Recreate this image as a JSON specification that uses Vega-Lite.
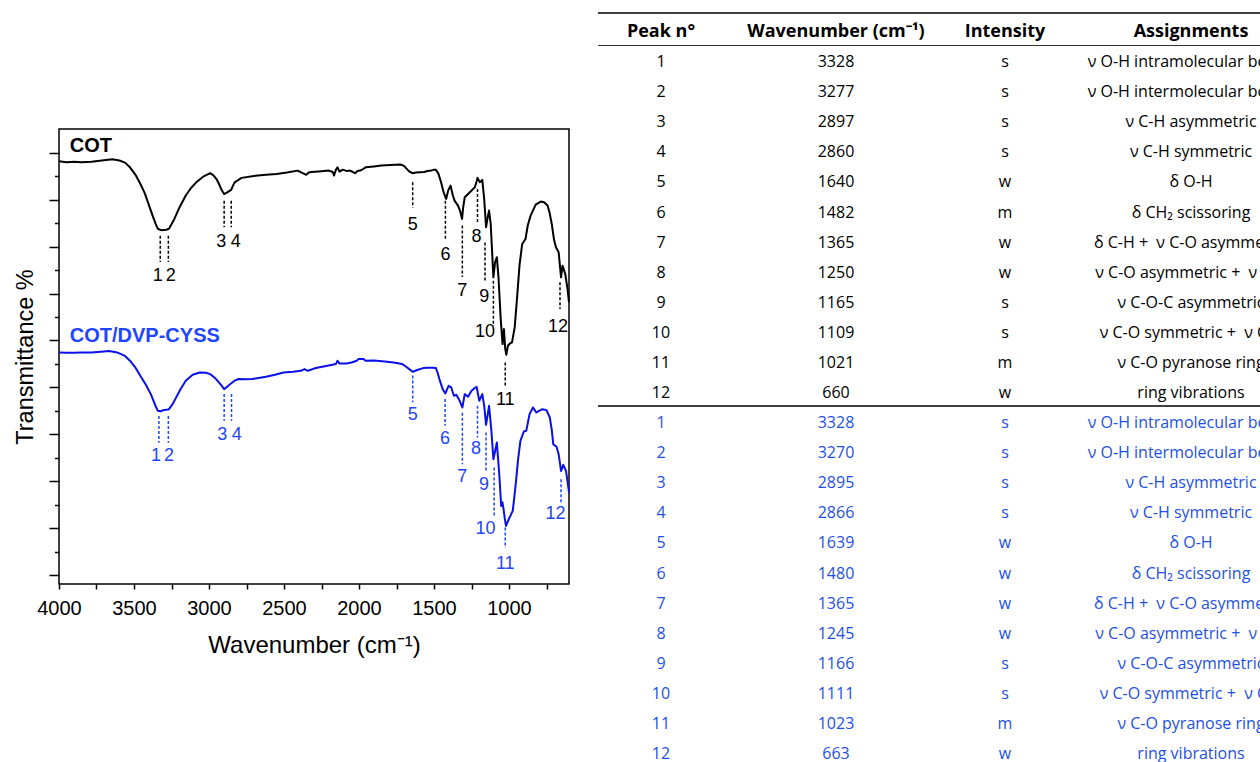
{
  "$schema": "https://vega.github.io/schema/vega-lite/v6.json",
  "usermeta": {"embedOptions": {"actions": false}},
  "background": "#ffffff",
  "padding": {"left": 12, "top": 0, "right": 0, "bottom": 0},
  "config": {
    "view": {"stroke": "#000000", "strokeWidth": 1.5},
    "font": "Liberation Sans"
  },
  "datasets": {
    "cot": [
      {"wn":4000,"t":88.2},{"wn":3950,"t":88.0},{"wn":3900,"t":88.1},{"wn":3850,"t":88.0},{"wn":3784,"t":88.1},{"wn":3714,"t":88.35},{"wn":3644,"t":88.6},{"wn":3597,"t":88.35},{"wn":3560,"t":87.9},{"wn":3527,"t":86.9},{"wn":3490,"t":85.3},{"wn":3458,"t":83.4},{"wn":3430,"t":81.5},{"wn":3411,"t":79.8},{"wn":3376,"t":76.6},{"wn":3355,"t":74.8},{"wn":3341,"t":73.8},{"wn":3320,"t":73.5},{"wn":3306,"t":73.55},{"wn":3285,"t":73.6},{"wn":3267,"t":73.8},{"wn":3237,"t":75.5},{"wn":3202,"t":78.0},{"wn":3155,"t":80.9},{"wn":3120,"t":82.5},{"wn":3085,"t":83.7},{"wn":3039,"t":84.9},{"wn":2992,"t":85.65},{"wn":2969,"t":85.15},{"wn":2950,"t":84.4},{"wn":2934,"t":83.4},{"wn":2915,"t":82.0},{"wn":2899,"t":81.2},{"wn":2876,"t":81.6},{"wn":2852,"t":82.1},{"wn":2840,"t":83.0},{"wn":2829,"t":83.7},{"wn":2783,"t":84.65},{"wn":2690,"t":85.1},{"wn":2620,"t":85.3},{"wn":2550,"t":85.5},{"wn":2480,"t":85.8},{"wn":2410,"t":86.2},{"wn":2390,"t":85.9},{"wn":2375,"t":85.65},{"wn":2352,"t":85.3},{"wn":2335,"t":85.8},{"wn":2317,"t":85.9},{"wn":2271,"t":86.0},{"wn":2235,"t":86.1},{"wn":2201,"t":86.2},{"wn":2175,"t":85.9},{"wn":2166,"t":85.15},{"wn":2155,"t":86.3},{"wn":2143,"t":86.9},{"wn":2130,"t":86.0},{"wn":2108,"t":86.4},{"wn":2080,"t":86.1},{"wn":2061,"t":86.2},{"wn":2040,"t":85.9},{"wn":2026,"t":85.65},{"wn":2010,"t":86.1},{"wn":1991,"t":86.2},{"wn":1970,"t":86.6},{"wn":1956,"t":86.9},{"wn":1900,"t":87.1},{"wn":1852,"t":87.3},{"wn":1790,"t":87.4},{"wn":1724,"t":87.5},{"wn":1700,"t":87.2},{"wn":1677,"t":86.4},{"wn":1660,"t":85.9},{"wn":1642,"t":85.65},{"wn":1620,"t":85.8},{"wn":1596,"t":85.86},{"wn":1565,"t":85.9},{"wn":1549,"t":86.07},{"wn":1520,"t":86.2},{"wn":1503,"t":86.36},{"wn":1487,"t":86.36},{"wn":1470,"t":85.5},{"wn":1453,"t":83.72},{"wn":1435,"t":81.5},{"wn":1419,"t":80.17},{"wn":1405,"t":82.0},{"wn":1390,"t":83.01},{"wn":1375,"t":81.0},{"wn":1363,"t":79.81},{"wn":1340,"t":78.75},{"wn":1325,"t":77.5},{"wn":1313,"t":75.9},{"wn":1305,"t":78.5},{"wn":1295,"t":80.52},{"wn":1261,"t":81.59},{"wn":1228,"t":82.66},{"wn":1215,"t":84.0},{"wn":1210,"t":84.65},{"wn":1194,"t":83.72},{"wn":1178,"t":84.22},{"wn":1165,"t":80.0},{"wn":1153,"t":74.12},{"wn":1142,"t":76.25},{"wn":1133,"t":77.68},{"wn":1122,"t":74.83},{"wn":1104,"t":63.45},{"wn":1093,"t":66.65},{"wn":1081,"t":67.72},{"wn":1070,"t":63.45},{"wn":1056,"t":54.92},{"wn":1043,"t":49.22},{"wn":1034,"t":52.43},{"wn":1025,"t":48.16},{"wn":1018,"t":46.95},{"wn":1007,"t":48.87},{"wn":995,"t":49.3},{"wn":980,"t":49.58},{"wn":962,"t":52.78},{"wn":946,"t":59.18},{"wn":930,"t":66.0},{"wn":912,"t":70.57},{"wn":890,"t":71.63},{"wn":875,"t":74.5},{"wn":856,"t":76.61},{"wn":822,"t":78.96},{"wn":788,"t":79.6},{"wn":766,"t":79.45},{"wn":743,"t":78.75},{"wn":730,"t":77.3},{"wn":715,"t":74.83},{"wn":700,"t":71.5},{"wn":687,"t":69.85},{"wn":669,"t":68.79},{"wn":653,"t":63.45},{"wn":643,"t":65.94},{"wn":625,"t":64.16},{"wn":610,"t":61.0},{"wn":600,"t":58.1}
    ],
    "blend": [
      {"wn":4000,"t":47.45},{"wn":3950,"t":47.4},{"wn":3900,"t":47.38},{"wn":3850,"t":47.45},{"wn":3784,"t":47.45},{"wn":3720,"t":47.6},{"wn":3667,"t":47.73},{"wn":3620,"t":47.5},{"wn":3597,"t":47.23},{"wn":3560,"t":46.7},{"wn":3527,"t":45.67},{"wn":3490,"t":44.2},{"wn":3458,"t":42.47},{"wn":3420,"t":40.5},{"wn":3388,"t":38.56},{"wn":3360,"t":36.3},{"wn":3341,"t":35.0},{"wn":3320,"t":34.9},{"wn":3306,"t":35.14},{"wn":3285,"t":35.2},{"wn":3267,"t":35.35},{"wn":3245,"t":36.3},{"wn":3225,"t":37.49},{"wn":3190,"t":39.6},{"wn":3155,"t":41.4},{"wn":3109,"t":42.68},{"wn":3062,"t":43.18},{"wn":3020,"t":43.1},{"wn":2992,"t":42.82},{"wn":2960,"t":42.0},{"wn":2934,"t":41.04},{"wn":2915,"t":40.3},{"wn":2899,"t":39.62},{"wn":2880,"t":40.1},{"wn":2864,"t":40.55},{"wn":2830,"t":41.4},{"wn":2806,"t":41.76},{"wn":2760,"t":41.7},{"wn":2713,"t":41.76},{"wn":2620,"t":42.25},{"wn":2560,"t":42.7},{"wn":2503,"t":43.18},{"wn":2440,"t":43.3},{"wn":2387,"t":43.53},{"wn":2364,"t":43.89},{"wn":2340,"t":43.53},{"wn":2300,"t":44.0},{"wn":2271,"t":44.24},{"wn":2210,"t":44.6},{"wn":2154,"t":44.96},{"wn":2143,"t":45.67},{"wn":2131,"t":45.1},{"wn":2085,"t":45.1},{"wn":2050,"t":45.3},{"wn":2015,"t":45.67},{"wn":2003,"t":46.02},{"wn":1968,"t":46.02},{"wn":1957,"t":45.67},{"wn":1900,"t":45.7},{"wn":1828,"t":45.53},{"wn":1770,"t":45.3},{"wn":1712,"t":44.96},{"wn":1690,"t":44.5},{"wn":1665,"t":43.89},{"wn":1642,"t":43.32},{"wn":1620,"t":43.6},{"wn":1607,"t":43.75},{"wn":1572,"t":44.1},{"wn":1540,"t":44.2},{"wn":1510,"t":44.2},{"wn":1487,"t":44.1},{"wn":1475,"t":43.0},{"wn":1464,"t":41.76},{"wn":1442,"t":39.62},{"wn":1424,"t":38.7},{"wn":1403,"t":40.33},{"wn":1385,"t":39.98},{"wn":1367,"t":38.2},{"wn":1351,"t":38.41},{"wn":1329,"t":37.13},{"wn":1311,"t":35.71},{"wn":1295,"t":38.55},{"wn":1273,"t":37.99},{"wn":1250,"t":39.27},{"wn":1230,"t":39.8},{"wn":1216,"t":40.12},{"wn":1198,"t":37.13},{"wn":1178,"t":38.55},{"wn":1165,"t":36.0},{"wn":1153,"t":32.01},{"wn":1133,"t":36.06},{"wn":1118,"t":31.0},{"wn":1104,"t":24.68},{"wn":1081,"t":28.24},{"wn":1065,"t":21.5},{"wn":1052,"t":14.72},{"wn":1044,"t":15.5},{"wn":1036,"t":14.01},{"wn":1028,"t":12.0},{"wn":1020,"t":10.46},{"wn":1002,"t":11.88},{"wn":975,"t":13.66},{"wn":965,"t":16.5},{"wn":953,"t":20.06},{"wn":940,"t":24.5},{"wn":924,"t":28.6},{"wn":901,"t":30.59},{"wn":885,"t":30.73},{"wn":863,"t":34.29},{"wn":840,"t":35.71},{"wn":818,"t":34.64},{"wn":800,"t":35.0},{"wn":777,"t":35.35},{"wn":750,"t":35.14},{"wn":728,"t":33.57},{"wn":715,"t":31.0},{"wn":705,"t":27.89},{"wn":683,"t":27.32},{"wn":669,"t":25.75},{"wn":653,"t":22.19},{"wn":638,"t":23.47},{"wn":620,"t":22.19},{"wn":610,"t":20.0},{"wn":600,"t":17.6}
    ],
    "cotMarks": [
      {"wn":3325,"y1":72.3,"y2":66.7},{"wn":3271,"y1":72.3,"y2":66.7},{"wn":2899,"y1":79.8,"y2":74.1},{"wn":2852,"y1":79.8,"y2":74.1},{"wn":1642,"y1":83.7,"y2":78.3},{"wn":1424,"y1":79.8,"y2":71.6},{"wn":1311,"y1":74.5,"y2":63.5},{"wn":1210,"y1":82.3,"y2":75.2},{"wn":1160,"y1":70.9,"y2":62.7},{"wn":1104,"y1":62.7,"y2":53.1},{"wn":1025,"y1":45.3,"y2":40.0},{"wn":660,"y1":62.4,"y2":56.7}
    ],
    "blendMarks": [
      {"wn":3334,"y1":33.9,"y2":28.2},{"wn":3271,"y1":33.9,"y2":28.2},{"wn":2899,"y1":38.6,"y2":32.9},{"wn":2850,"y1":38.6,"y2":32.9},{"wn":1642,"y1":42.5,"y2":36.8},{"wn":1426,"y1":37.5,"y2":31.8},{"wn":1311,"y1":34.6,"y2":23.6},{"wn":1210,"y1":36.1,"y2":29.3},{"wn":1153,"y1":30.4,"y2":22.2},{"wn":1099,"y1":22.9,"y2":12.6},{"wn":1025,"y1":10.1,"y2":5.8},{"wn":653,"y1":20.4,"y2":15.4}
    ],
    "cotLabels": [
      {"wn":3341,"t":63.7,"label":"1"},{"wn":3255,"t":63.7,"label":"2"},{"wn":2918,"t":70.9,"label":"3"},{"wn":2822,"t":70.9,"label":"4"},{"wn":1642,"t":74.7,"label":"5"},{"wn":1424,"t":68.3,"label":"6"},{"wn":1311,"t":60.5,"label":"7"},{"wn":1216,"t":72.0,"label":"8"},{"wn":1165,"t":59.2,"label":"9"},{"wn":1160,"t":51.7,"label":"10"},{"wn":1025,"t":37.3,"label":"11"},{"wn":673,"t":52.8,"label":"12"}
    ],
    "blendLabels": [
      {"wn":3353,"t":25.3,"label":"1"},{"wn":3267,"t":25.3,"label":"2"},{"wn":2911,"t":29.9,"label":"3"},{"wn":2815,"t":29.9,"label":"4"},{"wn":1642,"t":34.1,"label":"5"},{"wn":1426,"t":29.0,"label":"6"},{"wn":1311,"t":20.8,"label":"7"},{"wn":1220,"t":26.8,"label":"8"},{"wn":1167,"t":19.2,"label":"9"},{"wn":1156,"t":9.8,"label":"10"},{"wn":1025,"t":2.3,"label":"11"},{"wn":690,"t":13.0,"label":"12"}
    ],
    "series": [
      {"sample":"COT","wn":3928,"t":91.5},
      {"sample":"COT/DVP-CYSS","wn":3928,"t":51.0}
    ],
    "tableHeader": [
      {"row":0,"col":1,"text":"Peak n°"},
      {"row":0,"col":2,"text":"Wavenumber (cm⁻¹)"},
      {"row":0,"col":3,"text":"Intensity"},
      {"row":0,"col":4,"text":"Assignments"}
    ],
    "tableBody": [
      {"row":1,"col":1,"text":"1","sample":"COT"},{"row":1,"col":2,"text":"3328","sample":"COT"},{"row":1,"col":3,"text":"s","sample":"COT"},{"row":1,"col":4,"text":"ν O-H intramolecular bonds","sample":"COT"},
      {"row":2,"col":1,"text":"2","sample":"COT"},{"row":2,"col":2,"text":"3277","sample":"COT"},{"row":2,"col":3,"text":"s","sample":"COT"},{"row":2,"col":4,"text":"ν O-H intermolecular bonds","sample":"COT"},
      {"row":3,"col":1,"text":"3","sample":"COT"},{"row":3,"col":2,"text":"2897","sample":"COT"},{"row":3,"col":3,"text":"s","sample":"COT"},{"row":3,"col":4,"text":"ν C-H asymmetric","sample":"COT"},
      {"row":4,"col":1,"text":"4","sample":"COT"},{"row":4,"col":2,"text":"2860","sample":"COT"},{"row":4,"col":3,"text":"s","sample":"COT"},{"row":4,"col":4,"text":"ν C-H symmetric","sample":"COT"},
      {"row":5,"col":1,"text":"5","sample":"COT"},{"row":5,"col":2,"text":"1640","sample":"COT"},{"row":5,"col":3,"text":"w","sample":"COT"},{"row":5,"col":4,"text":"δ O-H","sample":"COT"},
      {"row":6,"col":1,"text":"6","sample":"COT"},{"row":6,"col":2,"text":"1482","sample":"COT"},{"row":6,"col":3,"text":"m","sample":"COT"},{"row":6,"col":4,"text":"δ CH₂ scissoring","sample":"COT"},
      {"row":7,"col":1,"text":"7","sample":"COT"},{"row":7,"col":2,"text":"1365","sample":"COT"},{"row":7,"col":3,"text":"w","sample":"COT"},{"row":7,"col":4,"text":"δ C-H + \u00a0ν C-O asymmetric","sample":"COT"},
      {"row":8,"col":1,"text":"8","sample":"COT"},{"row":8,"col":2,"text":"1250","sample":"COT"},{"row":8,"col":3,"text":"w","sample":"COT"},{"row":8,"col":4,"text":"ν C-O asymmetric + \u00a0ν C-C","sample":"COT"},
      {"row":9,"col":1,"text":"9","sample":"COT"},{"row":9,"col":2,"text":"1165","sample":"COT"},{"row":9,"col":3,"text":"s","sample":"COT"},{"row":9,"col":4,"text":"ν C-O-C asymmetric","sample":"COT"},
      {"row":10,"col":1,"text":"10","sample":"COT"},{"row":10,"col":2,"text":"1109","sample":"COT"},{"row":10,"col":3,"text":"s","sample":"COT"},{"row":10,"col":4,"text":"ν C-O symmetric + \u00a0ν C-C","sample":"COT"},
      {"row":11,"col":1,"text":"11","sample":"COT"},{"row":11,"col":2,"text":"1021","sample":"COT"},{"row":11,"col":3,"text":"m","sample":"COT"},{"row":11,"col":4,"text":"ν C-O pyranose ring","sample":"COT"},
      {"row":12,"col":1,"text":"12","sample":"COT"},{"row":12,"col":2,"text":"660","sample":"COT"},{"row":12,"col":3,"text":"w","sample":"COT"},{"row":12,"col":4,"text":"ring vibrations","sample":"COT"},
      {"row":13,"col":1,"text":"1","sample":"COT/DVP-CYSS"},{"row":13,"col":2,"text":"3328","sample":"COT/DVP-CYSS"},{"row":13,"col":3,"text":"s","sample":"COT/DVP-CYSS"},{"row":13,"col":4,"text":"ν O-H intramolecular bonds","sample":"COT/DVP-CYSS"},
      {"row":14,"col":1,"text":"2","sample":"COT/DVP-CYSS"},{"row":14,"col":2,"text":"3270","sample":"COT/DVP-CYSS"},{"row":14,"col":3,"text":"s","sample":"COT/DVP-CYSS"},{"row":14,"col":4,"text":"ν O-H intermolecular bonds","sample":"COT/DVP-CYSS"},
      {"row":15,"col":1,"text":"3","sample":"COT/DVP-CYSS"},{"row":15,"col":2,"text":"2895","sample":"COT/DVP-CYSS"},{"row":15,"col":3,"text":"s","sample":"COT/DVP-CYSS"},{"row":15,"col":4,"text":"ν C-H asymmetric","sample":"COT/DVP-CYSS"},
      {"row":16,"col":1,"text":"4","sample":"COT/DVP-CYSS"},{"row":16,"col":2,"text":"2866","sample":"COT/DVP-CYSS"},{"row":16,"col":3,"text":"s","sample":"COT/DVP-CYSS"},{"row":16,"col":4,"text":"ν C-H symmetric","sample":"COT/DVP-CYSS"},
      {"row":17,"col":1,"text":"5","sample":"COT/DVP-CYSS"},{"row":17,"col":2,"text":"1639","sample":"COT/DVP-CYSS"},{"row":17,"col":3,"text":"w","sample":"COT/DVP-CYSS"},{"row":17,"col":4,"text":"δ O-H","sample":"COT/DVP-CYSS"},
      {"row":18,"col":1,"text":"6","sample":"COT/DVP-CYSS"},{"row":18,"col":2,"text":"1480","sample":"COT/DVP-CYSS"},{"row":18,"col":3,"text":"w","sample":"COT/DVP-CYSS"},{"row":18,"col":4,"text":"δ CH₂ scissoring","sample":"COT/DVP-CYSS"},
      {"row":19,"col":1,"text":"7","sample":"COT/DVP-CYSS"},{"row":19,"col":2,"text":"1365","sample":"COT/DVP-CYSS"},{"row":19,"col":3,"text":"w","sample":"COT/DVP-CYSS"},{"row":19,"col":4,"text":"δ C-H + \u00a0ν C-O asymmetric","sample":"COT/DVP-CYSS"},
      {"row":20,"col":1,"text":"8","sample":"COT/DVP-CYSS"},{"row":20,"col":2,"text":"1245","sample":"COT/DVP-CYSS"},{"row":20,"col":3,"text":"w","sample":"COT/DVP-CYSS"},{"row":20,"col":4,"text":"ν C-O asymmetric + \u00a0ν C-C","sample":"COT/DVP-CYSS"},
      {"row":21,"col":1,"text":"9","sample":"COT/DVP-CYSS"},{"row":21,"col":2,"text":"1166","sample":"COT/DVP-CYSS"},{"row":21,"col":3,"text":"s","sample":"COT/DVP-CYSS"},{"row":21,"col":4,"text":"ν C-O-C asymmetric","sample":"COT/DVP-CYSS"},
      {"row":22,"col":1,"text":"10","sample":"COT/DVP-CYSS"},{"row":22,"col":2,"text":"1111","sample":"COT/DVP-CYSS"},{"row":22,"col":3,"text":"s","sample":"COT/DVP-CYSS"},{"row":22,"col":4,"text":"ν C-O symmetric + \u00a0ν C-C","sample":"COT/DVP-CYSS"},
      {"row":23,"col":1,"text":"11","sample":"COT/DVP-CYSS"},{"row":23,"col":2,"text":"1023","sample":"COT/DVP-CYSS"},{"row":23,"col":3,"text":"m","sample":"COT/DVP-CYSS"},{"row":23,"col":4,"text":"ν C-O pyranose ring","sample":"COT/DVP-CYSS"},
      {"row":24,"col":1,"text":"12","sample":"COT/DVP-CYSS"},{"row":24,"col":2,"text":"663","sample":"COT/DVP-CYSS"},{"row":24,"col":3,"text":"w","sample":"COT/DVP-CYSS"},{"row":24,"col":4,"text":"ring vibrations","sample":"COT/DVP-CYSS"}
    ]
  },
  "spacing": 26,
  "hconcat": [
    {
      "spacing": 20,
      "vconcat": [
        {
          "width": 510,
          "height": 108,
          "view": {"stroke": null},
          "data": {"values": []},
          "mark": {"type": "point", "opacity": 0}
        },
        {
          "width": 510,
          "height": 455,
          "encoding": {
            "x": {
              "field": "wn",
              "type": "quantitative",
              "scale": {"domain": [4000, 600], "nice": false, "zero": false},
              "axis": {
                "values": [4000, 3750, 3500, 3250, 3000, 2750, 2500, 2250, 2000, 1750, 1500, 1250, 1000, 750],
                "format": "d",
                "labelExpr": "datum.value % 500 === 0 ? datum.label : ''",
                "tickSize": 5,
                "tickWidth": 1.5,
                "tickColor": "#000000",
                "domain": false,
                "grid": false,
                "labelFont": "Liberation Sans",
                "labelFontSize": 20,
                "labelColor": "#000000",
                "labelPadding": 9,
                "labelFlush": false,
                "labelOverlap": false,
                "minExtent": 0,
                "title": "Wavenumber (cm⁻¹)",
                "titleFont": "Liberation Sans",
                "titleFontSize": 24,
                "titleFontWeight": "normal",
                "titleColor": "#000000",
                "titlePadding": 15
              }
            }
          },
          "layer": [
            {
              "data": {"name": "cot"},
              "mark": {"type": "line", "color": "#000000", "strokeWidth": 2, "strokeJoin": "round"},
              "encoding": {
                "y": {
                  "field": "t",
                  "type": "quantitative",
                  "scale": {"domain": [-1.92, 95.07], "nice": false, "zero": false},
                  "axis": {
                    "orient": "left",
                    "values": [0, 10, 20, 30, 40, 50, 60, 70, 80, 90],
                    "labels": false,
                    "tickSize": 10,
                    "tickWidth": 1.5,
                    "tickColor": "#000000",
                    "domain": false,
                    "grid": false,
                    "minExtent": 0,
                    "title": "Transmittance %",
                    "titleFont": "Liberation Sans",
                    "titleFontSize": 23.5,
                    "titleFontWeight": "normal",
                    "titleColor": "#000000",
                    "titlePadding": 11
                  }
                }
              }
            },
            {
              "data": {"name": "blend"},
              "mark": {"type": "line", "color": "#0a10e8", "strokeWidth": 2, "strokeJoin": "round"},
              "encoding": {
                "y": {"field": "t", "type": "quantitative", "scale": {"domain": [-1.92, 95.07], "nice": false, "zero": false}, "axis": null}
              }
            },
            {
              "data": {"name": "cotMarks"},
              "mark": {"type": "rule", "color": "#000000", "strokeWidth": 1.5, "strokeDash": [3, 2]},
              "encoding": {
                "y": {
                  "field": "y1",
                  "type": "quantitative",
                  "scale": {"domain": [-1.92, 95.07], "nice": false, "zero": false},
                  "axis": {
                    "orient": "left",
                    "values": [5, 15, 25, 35, 45, 55, 65, 75, 85],
                    "labels": false,
                    "tickSize": 4.5,
                    "tickWidth": 1.5,
                    "tickColor": "#000000",
                    "domain": false,
                    "grid": false,
                    "minExtent": 0,
                    "title": null
                  }
                },
                "y2": {"field": "y2"}
              }
            },
            {
              "data": {"name": "blendMarks"},
              "mark": {"type": "rule", "color": "#1f45ff", "strokeWidth": 1.5, "strokeDash": [3, 2]},
              "encoding": {
                "y": {"field": "y1", "type": "quantitative", "scale": {"domain": [-1.92, 95.07], "nice": false, "zero": false}, "axis": null},
                "y2": {"field": "y2"}
              }
            },
            {
              "data": {"name": "cotLabels"},
              "mark": {"type": "text", "font": "Liberation Sans", "fontSize": 18, "baseline": "middle", "align": "center", "color": "#000000"},
              "encoding": {
                "y": {"field": "t", "type": "quantitative", "scale": {"domain": [-1.92, 95.07], "nice": false, "zero": false}, "axis": null},
                "text": {"field": "label"}
              }
            },
            {
              "data": {"name": "blendLabels"},
              "mark": {"type": "text", "font": "Liberation Sans", "fontSize": 18, "baseline": "middle", "align": "center", "color": "#1f45ff"},
              "encoding": {
                "y": {"field": "t", "type": "quantitative", "scale": {"domain": [-1.92, 95.07], "nice": false, "zero": false}, "axis": null},
                "text": {"field": "label"}
              }
            },
            {
              "data": {"name": "series"},
              "transform": [{"filter": "datum.sample === 'COT'"}],
              "mark": {"type": "text", "font": "Liberation Sans", "fontSize": 20, "fontWeight": "bold", "baseline": "middle", "align": "left", "color": "#000000"},
              "encoding": {
                "y": {"field": "t", "type": "quantitative", "scale": {"domain": [-1.92, 95.07], "nice": false, "zero": false}, "axis": null},
                "text": {"field": "sample"}
              }
            },
            {
              "data": {"name": "series"},
              "transform": [{"filter": "datum.sample === 'COT/DVP-CYSS'"}],
              "mark": {"type": "text", "font": "Liberation Sans", "fontSize": 20, "fontWeight": "bold", "baseline": "middle", "align": "left", "color": "#1f45ff"},
              "encoding": {
                "y": {"field": "t", "type": "quantitative", "scale": {"domain": [-1.92, 95.07], "nice": false, "zero": false}, "axis": null},
                "text": {"field": "sample"}
              }
            }
          ],
          "resolve": {"axis": {"y": "independent"}}
        }
      ]
    },
    {
      "width": 662,
      "height": 762,
      "view": {"stroke": null},
      "layer": [
        {
          "data": {"values": [{}]},
          "mark": {"type": "rule", "color": "#000000", "strokeWidth": 1.6},
          "encoding": {"y": {"datum": -0.632, "type": "quantitative", "scale": {"domain": [24.266, -1.064], "nice": false, "zero": false}, "axis": null}}
        },
        {
          "data": {"values": [{}]},
          "mark": {"type": "rule", "color": "#333333", "strokeWidth": 1},
          "encoding": {"y": {"datum": 0.449, "type": "quantitative", "scale": {"domain": [24.266, -1.064], "nice": false, "zero": false}, "axis": null}}
        },
        {
          "data": {"values": [{}]},
          "mark": {"type": "rule", "color": "#000000", "strokeWidth": 1.6},
          "encoding": {"y": {"datum": 12.43, "type": "quantitative", "scale": {"domain": [24.266, -1.064], "nice": false, "zero": false}, "axis": null}}
        },
        {
          "data": {"name": "tableHeader"},
          "mark": {"type": "text", "font": "Open Sans", "fontSize": 18, "fontWeight": "bold", "baseline": "middle", "align": "center", "color": "#000000", "clip": true},
          "encoding": {
            "x": {"field": "col", "type": "quantitative", "scale": {"domain": [1, 2, 3, 4], "range": [63, 238, 407, 593], "nice": false, "zero": false}, "axis": null},
            "y": {"field": "row", "type": "quantitative", "scale": {"domain": [24.266, -1.064], "nice": false, "zero": false}, "axis": null},
            "text": {"field": "text"}
          }
        },
        {
          "data": {"name": "tableBody"},
          "mark": {"type": "text", "font": "Open Sans", "fontSize": 16, "baseline": "middle", "align": "center", "clip": true},
          "encoding": {
            "x": {"field": "col", "type": "quantitative", "scale": {"domain": [1, 2, 3, 4], "range": [63, 238, 407, 593], "nice": false, "zero": false}, "axis": null},
            "y": {"field": "row", "type": "quantitative", "scale": {"domain": [24.266, -1.064], "nice": false, "zero": false}, "axis": null},
            "text": {"field": "text"},
            "color": {"field": "sample", "type": "nominal", "scale": {"domain": ["COT", "COT/DVP-CYSS"], "range": ["#000000", "#1e50e6"]}, "legend": null}
          }
        }
      ]
    }
  ]
}
